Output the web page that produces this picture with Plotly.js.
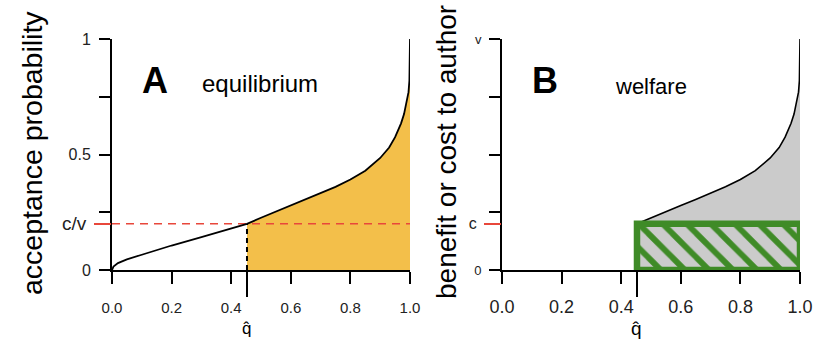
<!DOCTYPE html>
<html>
<head>
<meta charset="utf-8">
<script src="https://cdn.plot.ly/plotly-3.0.1.min.js"></script>
<style>html,body{margin:0;padding:0;background:#fff;}#chart{width:823px;height:342px;}</style>
</head>
<body>
<div id="chart"></div>
<script>
// ---- data ----
const qVals = [0, 0.005, 0.02, 0.05, 0.1, 0.2, 0.3, 0.4, 0.453, 0.5, 0.55, 0.6, 0.65, 0.7, 0.75, 0.8, 0.85, 0.9, 0.93, 0.95, 0.97, 0.98, 0.99, 0.995, 0.998, 0.9995, 1.0];
const pVals = [0, 0.015, 0.03, 0.046, 0.066, 0.106, 0.142, 0.180, 0.2, 0.226, 0.253, 0.279, 0.305, 0.332, 0.36, 0.392, 0.43, 0.485, 0.53, 0.575, 0.635, 0.675, 0.73, 0.77, 0.82, 0.88, 1.0];
const qHat = [0.453];
const cOverV = [0.2];
const xTickVals = [0, 0.2, 0.4, 0.6, 0.8, 1.0];
const xTickText = ['0.0', '0.2', '0.4', '0.6', '0.8', '1.0'];
const yTickVals = [0, 0.25, 0.5, 0.75, 1];
const yTickTextA = ['0', '', '0.5', '', '1'];
const yTickTextB = ['0', '', '', '', 'v'];
const panelLabels = ['A', 'B'];
const panelTitles = ['equilibrium', 'welfare'];
const axisTitles = ['acceptance probability', 'benefit or cost to author'];

// ---- derived ----
const qh = qHat[0], cv = cOverV[0];
const fillQ = [], fillP = [];
qVals.forEach((q, i) => { if (q >= qh) { fillQ.push(q); fillP.push(pVals[i]); } });

const FONT = 'Liberation Sans, Arial, Helvetica, sans-serif';
const ORANGE = '#f3bf4a', GRAY = '#cbcbcb', GREEN = '#3f8b27', RED = '#e8473b';

const traces = [
  // Panel A
  {x: fillQ, y: fillP, xaxis: 'x', yaxis: 'y', mode: 'lines', fill: 'tozeroy',
   fillcolor: ORANGE, line: {width: 0, color: ORANGE}, hoverinfo: 'skip'},
  {x: [0, 1], y: [cv, cv], xaxis: 'x', yaxis: 'y', mode: 'lines',
   line: {color: RED, width: 1.6, dash: '8px,6px'}},
  {x: [qh, qh], y: [0, cv], xaxis: 'x', yaxis: 'y', mode: 'lines',
   line: {color: '#000', width: 2, dash: '5px,4px'}},
  {x: qVals, y: pVals, xaxis: 'x', yaxis: 'y', mode: 'lines',
   line: {color: '#000', width: 1.8}},
  {x: [qh], y: [0], xaxis: 'x3', yaxis: 'y', mode: 'markers', marker: {opacity: 0}, hoverinfo: 'skip'},
  {x: [0], y: [cv], xaxis: 'x', yaxis: 'y3', mode: 'markers', marker: {opacity: 0}, hoverinfo: 'skip'},
  // Panel B
  {x: fillQ, y: fillP, xaxis: 'x2', yaxis: 'y2', mode: 'lines', fill: 'tozeroy',
   fillcolor: GRAY, line: {width: 0, color: GRAY}, hoverinfo: 'skip'},
  {x: fillQ, y: fillP, xaxis: 'x2', yaxis: 'y2', mode: 'lines',
   line: {color: '#000', width: 1.6}},
  {x: [qh, 1, 1, qh, qh], y: [0, 0, cv, cv, 0], xaxis: 'x2', yaxis: 'y2', mode: 'lines',
   fill: 'toself', fillcolor: GRAY,
   fillpattern: {shape: '\\', fgcolor: GREEN, bgcolor: GRAY, size: 17, solidity: 0.35},
   line: {color: GREEN, width: 6.5}, hoverinfo: 'skip'},
  {x: [qh], y: [0], xaxis: 'x4', yaxis: 'y2', mode: 'markers', marker: {opacity: 0}, hoverinfo: 'skip'},
  {x: [0], y: [cv], xaxis: 'x2', yaxis: 'y4', mode: 'markers', marker: {opacity: 0}, hoverinfo: 'skip'}
];

const domA = [112 / 823, 410 / 823], domB = [502 / 823, 800 / 823];
const domY = [72 / 342, 303 / 342];

function xAxis(dom, anchor, size, standoff) {
  return {domain: dom, anchor: anchor, range: [0, 1], showgrid: false, zeroline: false,
    showline: true, linecolor: '#000', linewidth: 2, ticks: 'outside', ticklen: 12, tickwidth: 2,
    tickcolor: '#000', tickvals: xTickVals, ticktext: xTickText,
    tickfont: {family: FONT, size: size, color: '#222'}, ticklabelstandoff: standoff, fixedrange: true};
}
function yAxis(dom, anchor, txt, size) {
  return {domain: dom, anchor: anchor, range: [0, 1], showgrid: false, zeroline: false,
    showline: true, linecolor: '#000', linewidth: 2, ticks: 'outside', ticklen: 11, tickwidth: 2,
    tickcolor: '#000', tickvals: yTickVals, ticktext: txt,
    tickfont: {family: FONT, size: size, color: '#222'}, ticklabelstandoff: 5, fixedrange: true};
}
function qTick(over, anchor, dom) {
  return {overlaying: over, anchor: anchor, domain: dom, range: [0, 1], showgrid: false, zeroline: false,
    showline: false, ticks: 'outside', ticklen: 26, tickwidth: 2, tickcolor: '#000',
    tickvals: qHat, ticktext: [''], fixedrange: true};
}
function cTick(over, anchor, dom, label, size) {
  return {overlaying: over, anchor: anchor, domain: dom, range: [0, 1], side: 'left', showgrid: false,
    zeroline: false, showline: false, ticks: 'outside', ticklen: 17, tickwidth: 1.6, tickcolor: RED,
    tickvals: cOverV, ticktext: [label], tickfont: {family: FONT, size: size, color: '#222'},
    ticklabelstandoff: 4, fixedrange: true};
}

const ann = (x, y, text, size, extra) => Object.assign({xref: 'paper', yref: 'paper', x: x, y: y,
  text: text, showarrow: false, xanchor: 'center', yanchor: 'middle',
  font: {family: FONT, size: size, color: '#000'}}, extra || {});

const layout = {
  width: 823, height: 342, margin: {l: 0, r: 0, t: 0, b: 0},
  paper_bgcolor: '#fff', plot_bgcolor: 'rgba(0,0,0,0)', showlegend: false,
  xaxis: xAxis(domA, 'y', 15, 11),
  yaxis: yAxis(domY, 'x', yTickTextA, 16),
  xaxis2: xAxis(domB, 'y2', 18, 7),
  yaxis2: yAxis(domY, 'x2', yTickTextB, 13),
  xaxis3: qTick('x', 'y', domA),
  yaxis3: cTick('y', 'x', domY, 'c/v', 19),
  xaxis4: qTick('x2', 'y2', domB),
  yaxis4: cTick('y2', 'x2', domY, 'c', 16),
  annotations: [
    ann(155 / 823, 1 - 81 / 342, '<b>' + panelLabels[0] + '</b>', 36),
    ann(260 / 823, 1 - 83 / 342, panelTitles[0], 24),
    ann(545 / 823, 1 - 81 / 342, '<b>' + panelLabels[1] + '</b>', 36),
    ann(651 / 823, 1 - 86 / 342, panelTitles[1], 22),
    ann(32 / 823, 1 - 153 / 342, axisTitles[0], 28.5, {textangle: -90}),
    ann(446 / 823, 1 - 152 / 342, axisTitles[1], 28, {textangle: -90}),
    ann(qh, 1 - 328 / 342, 'q\u0302', 17, {xref: 'x'}),
    ann(qh, 1 - 328 / 342, 'q\u0302', 19, {xref: 'x2'})
  ]
};

Plotly.newPlot('chart', traces, layout, {displayModeBar: false, staticPlot: true});
</script>
</body>
</html>
